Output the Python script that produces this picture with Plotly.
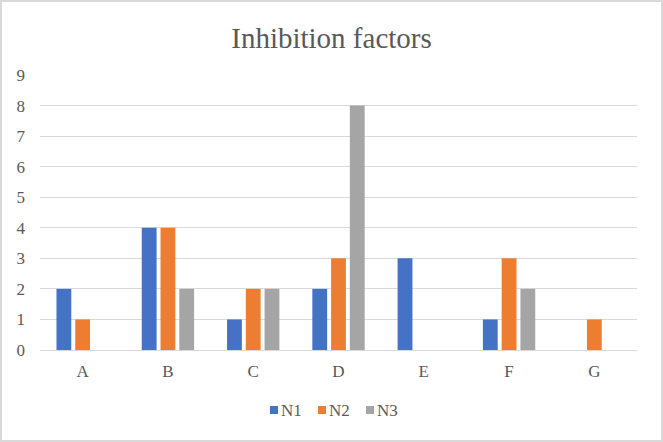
import plotly.graph_objects as go

categories = ["A", "B", "C", "D", "E", "F", "G"]
n1 = [2, 4, 1, 2, 3, 1, 0]
n2 = [1, 4, 2, 3, 0, 3, 1]
n3 = [0, 2, 2, 8, 0, 2, 0]
series_names = ["N1", "N2", "N3"]
colors = ["#4472C4", "#ED7D31", "#A5A5A5"]

W, H = 663, 442
ml, mr, mt, mb = 40, 26, 75, 92
pw, ph = W - ml - mr, H - mt - mb

fig = go.Figure()
for name, vals, c in zip(series_names, [n1, n2, n3], colors):
    fig.add_trace(go.Bar(x=categories, y=vals, name=name, marker=dict(color=c, line=dict(width=0))))

font = "'Times New Roman', 'Liberation Serif', 'DejaVu Serif', serif"
fig.update_layout(
    width=W, height=H,
    margin=dict(l=ml, r=mr, t=mt, b=mb),
    paper_bgcolor="white", plot_bgcolor="white",
    font=dict(family=font, color="#595959", size=14),
    title=dict(text="Inhibition factors", x=0.5, xanchor="center", y=1 - 38 / H, yanchor="middle",
               font=dict(family=font, size=29, color="#595959")),
    barmode="group", bargap=0.34, bargroupgap=0.21,
    showlegend=False,
    xaxis=dict(showgrid=False, showline=True, linecolor="#D9D9D9", linewidth=1, ticks="",
               ticklabelstandoff=6,
               tickfont=dict(family=font, size=17, color="#595959")),
    yaxis=dict(range=[0, 9], dtick=1, showgrid=True, gridcolor="#D9D9D9", gridwidth=1, zeroline=False,
               showline=False, ticks="", ticklabelstandoff=14,
               tickfont=dict(family=font, size=17, color="#595959")),
)

# manual legend (Excel style)
leg_y = 410
sq = 8
start_x = 270
step = 48
for i, (name, c) in enumerate(zip(series_names, colors)):
    x0 = start_x + i * step
    fig.add_shape(type="rect", xref="paper", yref="paper",
                  x0=(x0 - ml) / pw, x1=(x0 + sq - ml) / pw,
                  y0=(H - mb - (leg_y + sq / 2)) / ph, y1=(H - mb - (leg_y - sq / 2)) / ph,
                  line=dict(width=0), fillcolor=c)
    fig.add_annotation(xref="paper", yref="paper", x=(x0 + sq + 1 - ml) / pw,
                       y=(H - mb - leg_y) / ph, text=name, showarrow=False,
                       xanchor="left", yanchor="middle",
                       font=dict(family=font, size=17, color="#595959"))

# outer chart border
fig.add_shape(type="rect", xref="paper", yref="paper",
              x0=(-ml + 1) / pw, x1=(pw + mr - 1) / pw, y0=(-mb + 1) / ph, y1=(ph + mt - 1) / ph,
              line=dict(color="#D9D9D9", width=2), fillcolor="rgba(0,0,0,0)", layer="below")

fig.write_html("out.html")
